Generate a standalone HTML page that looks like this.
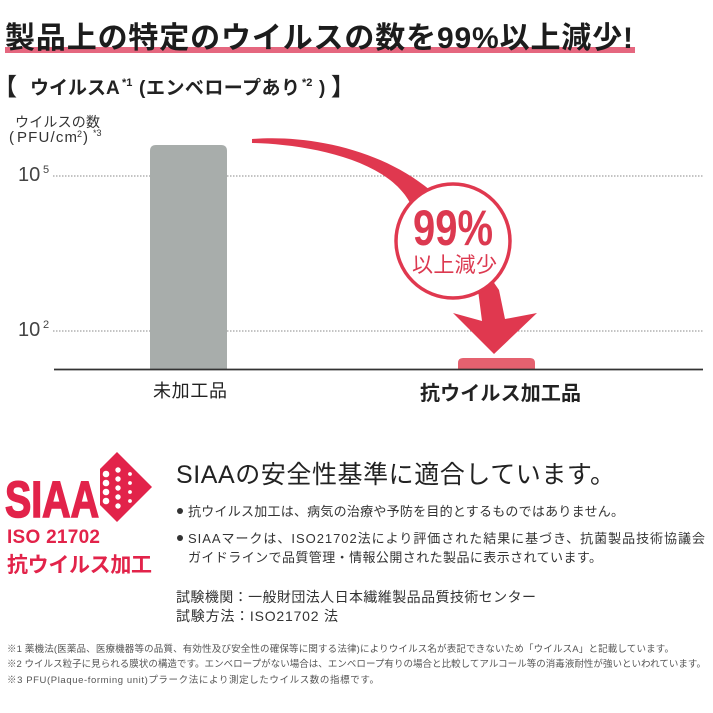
<!DOCTYPE html>
<html><head><meta charset="utf-8"><style>
html,body{margin:0;padding:0;background:#fff;}
svg{display:block;}
</style></head><body>
<svg width="713" height="713" viewBox="0 0 713 713" xmlns="http://www.w3.org/2000/svg" font-family='"Liberation Sans","Noto Sans CJK JP",sans-serif'>
<rect width="713" height="713" fill="#fff"/>

<!-- Title -->
<rect x="5" y="47" width="630" height="6" fill="#e5677f"/>
<text x="5" y="48" font-size="30" font-weight="bold" fill="#1c1c1c" textLength="628">製品上の特定のウイルスの数を99%以上減少!</text>

<!-- Subtitle -->
<text y="94" font-size="19" font-weight="bold" fill="#222">
<tspan x="-7" font-size="24" dy="1">【</tspan><tspan x="30" dy="-1">ウイルスA</tspan><tspan x="122" dy="-8" font-size="11">*1</tspan><tspan x="139" dy="8">(</tspan><tspan x="146" textLength="154">エンベロープあり</tspan><tspan x="302" dy="-8" font-size="11">*2</tspan><tspan x="319" dy="8">)</tspan><tspan x="331" font-size="24" dy="1">】</tspan>
</text>

<!-- Y axis label -->
<text x="15" y="127" font-size="14" fill="#333" textLength="85">ウイルスの数</text>
<text y="142" font-size="15" fill="#333"><tspan x="9">(</tspan><tspan x="17" textLength="60">PFU/cm</tspan><tspan x="77" dy="-5" font-size="9">2</tspan><tspan x="83" dy="5">)</tspan><tspan x="93" dy="-6" font-size="9">*3</tspan></text>

<!-- tick labels -->
<text x="18" y="181" font-size="20" fill="#444">10<tspan x="43" dy="-8" font-size="11">5</tspan></text>
<text x="18" y="336" font-size="20" fill="#444">10<tspan x="43" dy="-8" font-size="11">2</tspan></text>

<!-- grid -->
<line x1="53" y1="176" x2="703" y2="176" stroke="#8a8a8a" stroke-width="1" stroke-dasharray="1.5 1.5"/>
<line x1="53" y1="331" x2="703" y2="331" stroke="#8a8a8a" stroke-width="1" stroke-dasharray="1.5 1.5"/>

<!-- bars -->
<path d="M150 369 V151 Q150 145 156 145 H221 Q227 145 227 151 V369 Z" fill="#a8adab"/>
<path d="M458 369 V363 Q458 358 463 358 H530 Q535 358 535 363 V369 Z" fill="#e5616f"/>
<line x1="54" y1="369.5" x2="703" y2="369.5" stroke="#333" stroke-width="1.8"/>

<!-- arrow -->
<path d="M252 139 C300 135 375 145 430 190 L499 290 L505 319 L537 313 L494 354 L453 313 L482 321 L478 290 L412 207 C390 157 300 144 252 143 Z" fill="#e0384f"/>
<circle cx="453" cy="241" r="57" fill="#fff" stroke="#e0384f" stroke-width="3.5"/>
<text x="413" y="245" font-size="50" font-weight="bold" fill="#dc3950" textLength="80" lengthAdjust="spacingAndGlyphs">99%</text>
<text x="412" y="272" font-size="21" fill="#dc3950" textLength="85">以上減少</text>

<!-- x labels -->
<text x="153" y="397" font-size="18" fill="#222" textLength="74">未加工品</text>
<text x="420" y="400" font-size="20" font-weight="bold" fill="#222" textLength="161">抗ウイルス加工品</text>

<!-- SIAA logo -->
<polygon points="117,452 152,487 117,522 100,505 100,469" fill="#e2234a"/>
<g fill="#fff">
<circle cx="106" cy="474" r="3.3"/><circle cx="106" cy="483" r="3.3"/><circle cx="106" cy="492" r="3.3"/><circle cx="106" cy="501" r="3.3"/>
<circle cx="118" cy="470" r="2.7"/><circle cx="118" cy="479" r="2.7"/><circle cx="118" cy="488" r="2.7"/><circle cx="118" cy="497" r="2.7"/><circle cx="118" cy="506" r="2.7"/>
<circle cx="130" cy="474" r="1.9"/><circle cx="130" cy="483" r="1.9"/><circle cx="130" cy="492" r="1.9"/><circle cx="130" cy="501" r="1.9"/>
</g>
<text x="5" y="517" font-size="51" font-weight="bold" fill="#e2234a" stroke="#e2234a" stroke-width="1.6" textLength="94" lengthAdjust="spacingAndGlyphs">SIAA</text>
<text x="7" y="543" font-size="19" font-weight="bold" fill="#e2234a" textLength="93">ISO 21702</text>
<text x="7" y="572" font-size="21" font-weight="bold" fill="#e2234a" textLength="145">抗ウイルス加工</text>

<!-- right texts -->
<text x="176" y="483" font-size="25" fill="#222" textLength="439">SIAAの安全性基準に適合しています。</text>
<circle cx="180" cy="511" r="3" fill="#333"/>
<text x="188" y="516" font-size="13" fill="#333" textLength="436">抗ウイルス加工は、病気の治療や予防を目的とするものではありません。</text>
<circle cx="180" cy="538" r="3" fill="#333"/>
<text x="188" y="543" font-size="13" fill="#333" textLength="517">SIAAマークは、ISO21702法により評価された結果に基づき、抗菌製品技術協議会</text>
<text x="188" y="562" font-size="13" fill="#333" textLength="414">ガイドラインで品質管理・情報公開された製品に表示されています。</text>

<text x="176" y="602" font-size="14" fill="#333" textLength="360">試験機関：一般財団法人日本繊維製品品質技術センター</text>
<text x="176" y="621" font-size="14" fill="#333" textLength="162">試験方法：ISO21702 法</text>

<!-- footnotes -->
<text x="7" y="652" font-size="9.5" fill="#555" textLength="667">※1 薬機法(医薬品、医療機器等の品質、有効性及び安全性の確保等に関する法律)によりウイルス名が表記できないため「ウイルスA」と記載しています。</text>
<text x="7" y="667" font-size="9.5" fill="#555" textLength="699">※2 ウイルス粒子に見られる膜状の構造です。エンベロープがない場合は、エンベロープ有りの場合と比較してアルコール等の消毒液耐性が強いといわれています。</text>
<text x="7" y="683" font-size="9.5" fill="#555" textLength="372">※3 PFU(Plaque-forming unit)プラーク法により測定したウイルス数の指標です。</text>
</svg>
</body></html>
